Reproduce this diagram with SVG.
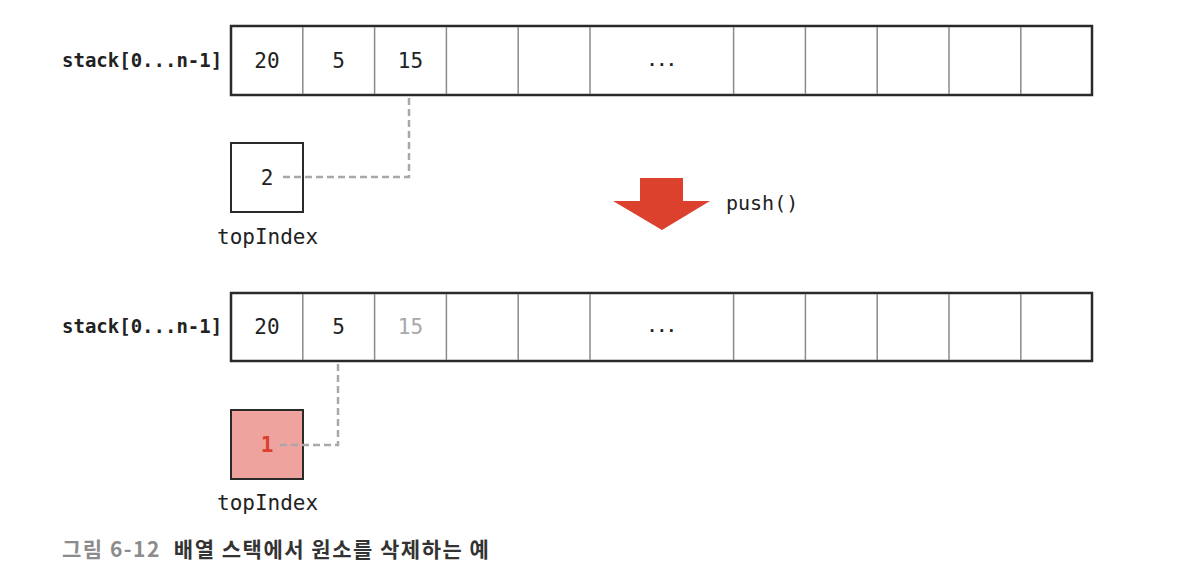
<svg xmlns="http://www.w3.org/2000/svg" width="1186" height="584" viewBox="0 0 1186 584">
<style>
.mono{font-family:"DejaVu Sans Mono","Liberation Mono",monospace;fill:#222}
.lbl{font-size:19px;font-weight:bold}
.cell{font-size:21px;text-anchor:middle}
.outer{fill:none;stroke:#2a2a2a;stroke-width:2.5}
.div{stroke:#8a8a8a;stroke-width:1.5}
.dash{fill:none;stroke:#a8a8a8;stroke-width:2.5;stroke-dasharray:7 4}
.box{stroke:#2a2a2a;stroke-width:2}
.cap{font-family:"Noto Sans CJK KR","Noto Sans",sans-serif;font-size:21px;font-weight:bold;letter-spacing:1.5px}
</style>
<rect width="1186" height="584" fill="#fff"/>
<g id="array-top">
<text class="mono lbl" x="62" y="67">stack[0...n-1]</text>
<rect class="outer" x="231" y="26" width="861" height="69" fill="#fff"/>
<g class="div">
<line x1="302.8" y1="27" x2="302.8" y2="94"/><line x1="374.6" y1="27" x2="374.6" y2="94"/><line x1="446.4" y1="27" x2="446.4" y2="94"/><line x1="518.2" y1="27" x2="518.2" y2="94"/><line x1="590" y1="27" x2="590" y2="94"/><line x1="733.6" y1="27" x2="733.6" y2="94"/><line x1="805.4" y1="27" x2="805.4" y2="94"/><line x1="877.2" y1="27" x2="877.2" y2="94"/><line x1="949" y1="27" x2="949" y2="94"/><line x1="1020.8" y1="27" x2="1020.8" y2="94"/>
</g>
<text class="mono cell" x="267" y="68">20</text>
<text class="mono cell" x="338.7" y="68">5</text>
<text class="mono cell" x="410.5" y="68">15</text>
<text class="mono cell" x="661.8" y="66" style="font-size:16px;font-weight:bold">...</text>
</g>
<g id="topIndex-top">
<rect class="box" x="231" y="143" width="72" height="69" fill="#fff"/>
<text class="mono cell" x="267" y="185">2</text>
<text class="mono" x="217" y="244" font-size="21">topIndex</text>
</g>
<g id="push-arrow">
<polygon points="640,178 683,178 683,201 710,201 662,230 613,201 640,201" fill="#dc412e"/>
<text class="mono" x="726" y="210" font-size="20">push()</text>
</g>
<g id="array-bottom">
<text class="mono lbl" x="62" y="333">stack[0...n-1]</text>
<rect class="outer" x="231" y="293" width="861" height="68" fill="#fff"/>
<g class="div">
<line x1="302.8" y1="294" x2="302.8" y2="360"/><line x1="374.6" y1="294" x2="374.6" y2="360"/><line x1="446.4" y1="294" x2="446.4" y2="360"/><line x1="518.2" y1="294" x2="518.2" y2="360"/><line x1="590" y1="294" x2="590" y2="360"/><line x1="733.6" y1="294" x2="733.6" y2="360"/><line x1="805.4" y1="294" x2="805.4" y2="360"/><line x1="877.2" y1="294" x2="877.2" y2="360"/><line x1="949" y1="294" x2="949" y2="360"/><line x1="1020.8" y1="294" x2="1020.8" y2="360"/>
</g>
<text class="mono cell" x="267" y="334">20</text>
<text class="mono cell" x="338.7" y="334">5</text>
<text class="mono cell" x="410.5" y="334" style="fill:#a8a8a8">15</text>
<text class="mono cell" x="661.8" y="332" style="font-size:16px;font-weight:bold">...</text>
</g>
<g id="topIndex-bottom">
<rect class="box" x="231" y="410" width="72" height="69" fill="#efa39e"/>
<text class="mono cell" x="267" y="452" style="fill:#d9402f;font-weight:bold">1</text>
<text class="mono" x="217" y="510" font-size="21">topIndex</text>
</g>
<g id="connectors">
<polyline class="dash" points="283,177 409,177 409,96"/>
<polyline class="dash" points="280,445 338,445 338,362"/>
</g>
<g id="caption">
<text class="cap" x="62" y="557"><tspan fill="#8c8c8c">그림 6-12</tspan><tspan fill="#333" dx="13">배열 스택에서 원소를 삭제하는 예</tspan></text>
</g>
</svg>
